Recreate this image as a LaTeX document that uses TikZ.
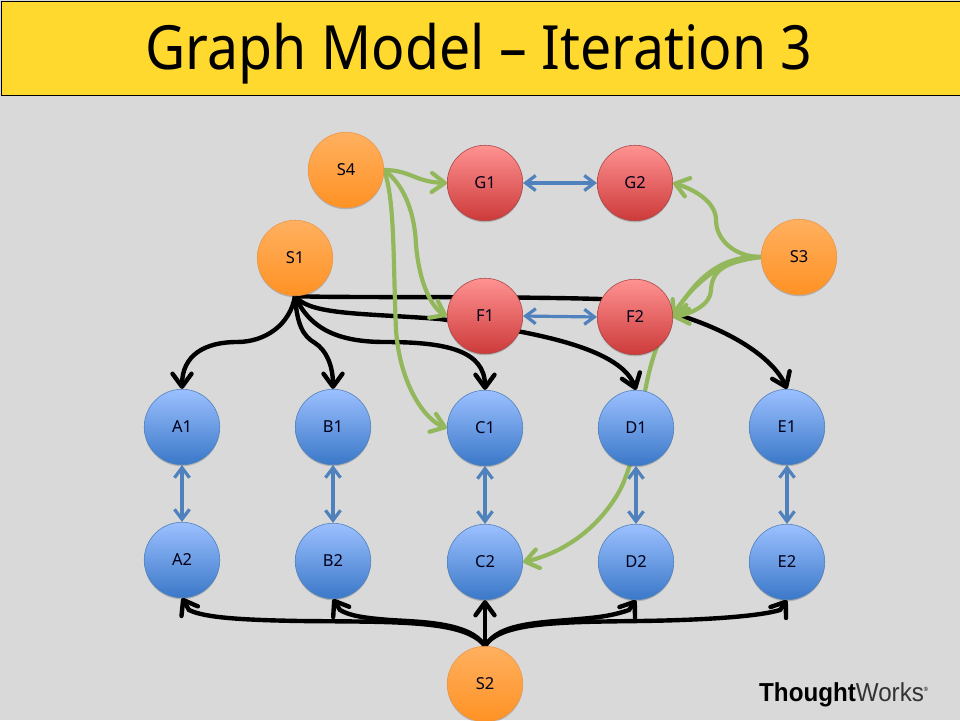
\documentclass[tikz,border=0pt]{standalone}
\usepackage{fontspec}
\setmainfont{Noto Sans}
\newfontfamily\logofont{Liberation Sans}
\usetikzlibrary{arrows.meta,shadows}
\pgfdeclarelayer{bglayer}\pgfdeclarelayer{edgelayer}
\pgfsetlayers{bglayer,edgelayer,main}
\definecolor{slidebg}{HTML}{D9D9D9}
\definecolor{titlebar}{HTML}{FFD92E}
\definecolor{edgeblue}{HTML}{4F81BD}
\definecolor{edgegreen}{HTML}{93B85C}
\tikzset{
 x=1pt,y=-1pt,
 vertex/.style={circle,minimum size=75.5pt,inner sep=0pt,line width=.6pt,
   font=\fontsize{16.5}{16}\selectfont,text=black!90!blue,
   drop shadow={shadow xshift=0pt,shadow yshift=-1.5pt,opacity=.18,fill=black}},
 orangenode/.style={vertex,draw={rgb,255:red,235;green,150;blue,70},top color={rgb,255:red,255;green,176;blue,96},bottom color={rgb,255:red,255;green,146;blue,36}},
 rednode/.style={vertex,draw={rgb,255:red,170;green,70;blue,70},top color={rgb,255:red,255;green,146;blue,146},bottom color={rgb,255:red,205;green,58;blue,58}},
 bluenode/.style={vertex,draw=edgeblue,top color={rgb,255:red,156;green,192;blue,255},bottom color={rgb,255:red,58;green,120;blue,200}},
 blackedge/.style={draw=black,line width=4.4pt,line cap=round,-{Straight Barb[length=13pt,width=19pt,line width=4.4pt,round]}},
 greenedge/.style={draw=edgegreen,line width=4.2pt,line cap=round,-{Straight Barb[length=13pt,width=19pt,line width=4.2pt,round]}},
 blueedge/.style={draw=edgeblue,line width=3.2pt,{Straight Barb[length=10pt,width=15pt,line width=3.2pt]}-{Straight Barb[length=10pt,width=15pt,line width=3.2pt]}},
}
\begin{document}
\begin{tikzpicture}
\useasboundingbox (0,0) rectangle (960,720);
\begin{pgfonlayer}{bglayer}
\fill[slidebg] (0,0) rectangle (960,720);
\end{pgfonlayer}
\node[draw=black,line width=1pt,fill=titlebar,minimum width=959pt,minimum height=94pt,inner sep=0pt,anchor=north west] (title) at (.5,.5) {};
\node[inner sep=0pt,text=black,anchor=base] (titletext) at (479,69) {\scalebox{.908}[1]{\fontsize{61}{61}\selectfont Graph Model – Iteration 3}};
\node[orangenode] (S4) at (346,170) {S4};
\node[rednode] (G1) at (485,183) {G1};
\node[rednode] (G2) at (635,183) {G2};
\node[orangenode] (S1) at (295,258) {S1};
\node[orangenode] (S3) at (799,257) {S3};
\node[rednode] (F1) at (485,316) {F1};
\node[rednode] (F2) at (635,317) {F2};
\node[bluenode] (A1) at (182,427) {A1};
\node[bluenode] (B1) at (333,427) {B1};
\node[bluenode] (C1) at (485,428) {C1};
\node[bluenode] (D1) at (636,428) {D1};
\node[bluenode] (E1) at (787,427) {E1};
\node[bluenode] (A2) at (182,560) {A2};
\node[bluenode] (B2) at (333,561) {B2};
\node[bluenode] (C2) at (485,562) {C2};
\node[bluenode] (D2) at (636,562) {D2};
\node[bluenode] (E2) at (787,562) {E2};
\node[orangenode] (S2) at (485,684) {S2};
\node[inner sep=0pt,anchor=west,text=black] (logo) at (759,695) {\scalebox{.93}[1]{\logofont\fontsize{26}{26}\selectfont\textbf{Thought}{\color{black!80}Works}\raisebox{10pt}{\fontsize{6}{6}\selectfont®}}};
\begin{pgfonlayer}{edgelayer}
% black S1
\draw[blackedge] (S1.south) .. controls (290,325) and (265,342) .. (237,342) .. controls (205,342) and (182,355) .. (A1.north);
\draw[blackedge] (S1.south) .. controls (297,325) and (303,336) .. (315,343) .. controls (326,350) and (333,365) .. (B1.north);
\draw[blackedge] (S1.south) .. controls (310,330) and (340,342) .. (385,342) .. controls (445,342) and (485,350) .. (C1.north);
\draw[blackedge] (S1.south) .. controls (310,315) and (360,313) .. (440,319) .. controls (520,330) and (620,345) .. (D1.north);
\draw[blackedge] (S1.south) .. controls (330,298) and (500,296) .. (600,299) .. controls (700,310) and (770,350) .. (E1.north);
% black S2
\draw[blackedge] (S2.north) .. controls (465,620) and (400,622) .. (300,621) .. controls (245,620) and (205,618) .. (189,610) -- (A2.south);
\draw[blackedge] (S2.north) .. controls (470,622) and (420,622) .. (390,620) .. controls (365,618) and (350,616) .. (340,610) -- (B2.south);
\draw[blackedge] (S2.north) -- (C2.south);
\draw[blackedge] (S2.north) .. controls (500,622) and (540,623) .. (590,618) .. controls (610,616) and (620,613) .. (629,610) -- (D2.south);
\draw[blackedge] (S2.north) .. controls (500,622) and (560,622) .. (640,621) .. controls (710,620) and (760,616) .. (780,610) -- (E2.south);
% blue
\draw[blueedge] (G1.east) -- (G2.west);
\draw[blueedge] (F1.east) -- (F2.west);
\foreach \a/\b in {A1/A2,B1/B2,C1/C2,D1/D2,E1/E2}{\draw[blueedge] (\a.south) -- (\b.north);}
% green S4
\draw[greenedge] (S4.east) .. controls (410,170) and (415,182) .. (G1.west);
\draw[greenedge] (S4.east) .. controls (405,185) and (415,215) .. (416,245) .. controls (420,290) and (435,310) .. (F1.west);
\draw[greenedge] (S4.east) .. controls (395,200) and (393,260) .. (396,330) .. controls (400,385) and (425,420) .. (C1.west);
% green S3
\draw[greenedge] (S3.west) .. controls (735,257) and (716,240) .. (716,220) .. controls (716,200) and (690,188) .. (G2.east);
\draw[greenedge] (S3.west) .. controls (720,255) and (695,280) .. (F2.east);
\draw[greenedge] (S3.west) .. controls (725,262) and (712,270) .. (711,290) .. controls (711,305) and (690,314) .. (F2.east);
\draw[greenedge] (S3.west) .. controls (720,255) and (675,295) .. (655,352) .. controls (640,395) and (640,450) .. (620,490) .. controls (595,535) and (555,555) .. (C2.east);
\end{pgfonlayer}
\end{tikzpicture}
\end{document}
